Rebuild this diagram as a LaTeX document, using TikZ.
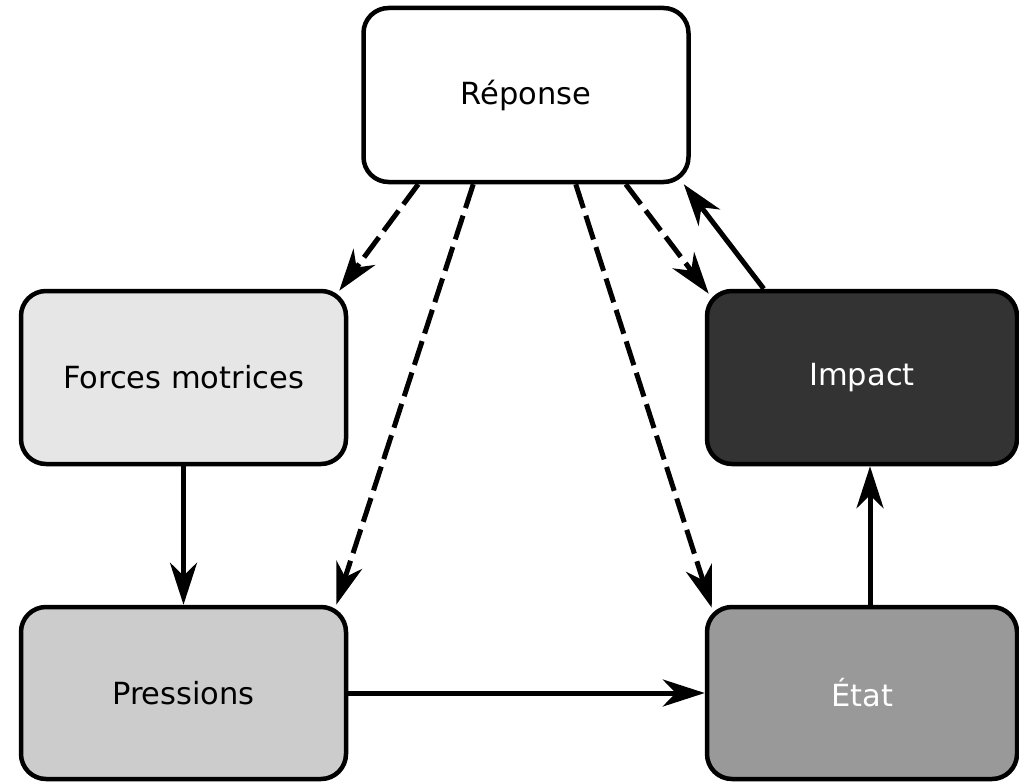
\documentclass[tikz,border=0pt]{standalone}
\usepackage{fontspec}
\setmainfont{DejaVu Sans}
\usetikzlibrary{arrows.meta}
\definecolor{cforces}{HTML}{E6E6E6}
\definecolor{cpress}{HTML}{CCCCCC}
\definecolor{cetat}{HTML}{999999}
\definecolor{cimpact}{HTML}{333333}
\begin{document}
\begin{tikzpicture}[x=1pt,y=-1pt,
  box/.style={draw=black, line width=4.5pt, rounded corners=25pt, inner sep=0pt,
    font=\fontsize{30.5}{36}\selectfont},
  conn/.style={line width=5pt, -{Stealth[length=42pt,width=27pt,inset=13pt]}},
  dconn/.style={conn, dash pattern=on 25pt off 8pt}]
\useasboundingbox (0,0) rectangle (1019,781);
\node[box, fill=white, minimum width=325pt, minimum height=174pt] (R) at (526,95) {Réponse};
\node[box, fill=cforces, minimum width=325pt, minimum height=173pt] (F) at (183.5,377.5) {Forces motrices};
\node[box, fill=cpress, minimum width=325pt, minimum height=172pt] (P) at (183.5,693) {Pressions};
\node[box, fill=cimpact, text=white, minimum width=310pt, minimum height=173pt] (I) at (862,377.5) {Impact};
\node[box, fill=cetat, text=white, minimum width=310pt, minimum height=172pt] (E) at (862,693) {État};
% dashed from Réponse
\draw[dconn] ([xshift=57pt]R.south west) -- ([xshift=-9pt,yshift=-2pt]F.north east);
\draw[dconn] ([xshift=112pt]R.south west) -- ([xshift=-12pt]P.north east);
\draw[dconn] ([xshift=-115pt]R.south east) -- ([xshift=7pt,yshift=-3pt]E.north west);
\draw[dconn] ([xshift=-65pt]R.south east) -- ([xshift=4pt,yshift=-5pt]I.north west);
% solid
\draw[conn] ([xshift=59pt]I.north west) -- ([xshift=-7pt]R.south east);
\draw[conn] (F.south) -- (P.north);
\draw[conn] (P.east) -- (E.west);
\draw[conn] ([xshift=8pt]E.north) -- ([xshift=8pt]I.south);
\end{tikzpicture}
\end{document}
